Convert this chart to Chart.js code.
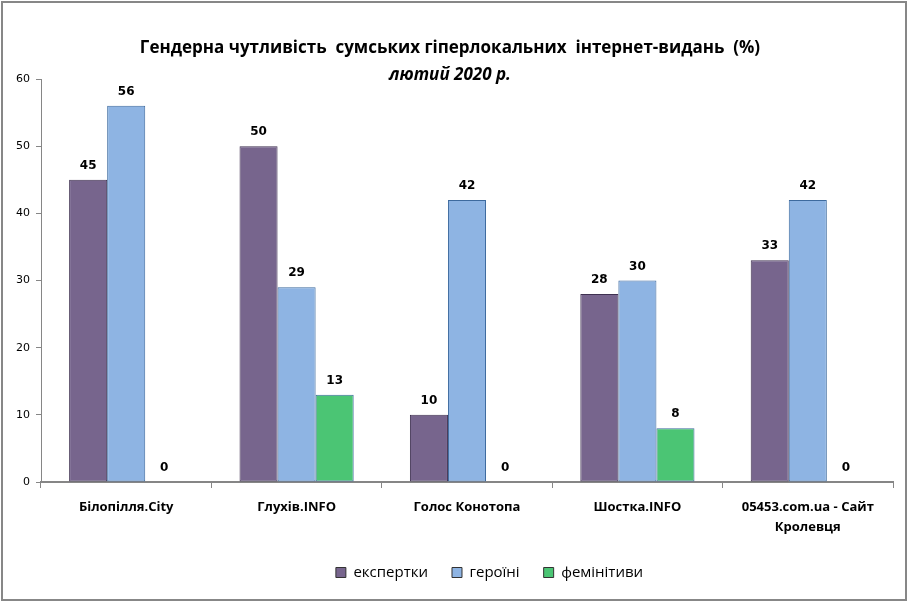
<!DOCTYPE html>
<html>
<head>
<meta charset="utf-8">
<script src="https://cdn.jsdelivr.net/npm/chart.js@4"></script>
<style>
html,body{margin:0;padding:0;background:#fff;}
#wrap{position:relative;width:909px;height:604px;}
</style>
</head>
<body>
<div id="wrap"><canvas id="c" width="909" height="604"></canvas></div>
<script>
const categories = ['Білопілля.City', 'Глухів.INFO', 'Голос Конотопа', 'Шостка.INFO', ['05453.com.ua - Сайт', 'Кролевця']];
const experts = [45, 50, 10, 28, 33];
const heroines = [56, 29, 42, 30, 42];
const feminitives = [0, 13, 0, 8, 0];
const seriesNames = ['експертки', 'героїні', 'фемінітиви'];
const titleLine1 = 'Гендерна чутливість  сумських гіперлокальних  інтернет-видань  (%)';
const titleLine2 = 'лютий 2020 р.';

const valueLabels = {
  id: 'valueLabels',
  afterDatasetsDraw(chart) {
    const ctx = chart.ctx;
    ctx.save();
    ctx.font = 'bold 12px "DejaVu Sans"';
    ctx.fillStyle = '#000';
    ctx.textAlign = 'center';
    ctx.textBaseline = 'middle';
    chart.data.datasets.forEach((ds, i) => {
      const meta = chart.getDatasetMeta(i);
      meta.data.forEach((bar, j) => {
        ctx.fillText(String(ds.data[j]), bar.x, bar.y - 14);
      });
    });
    ctx.restore();
  }
};

const frameAndTitle = {
  id: 'frameAndTitle',
  afterLayout(chart) {
    if (chart.legend) { chart.legend.left += 38; chart.legend.right += 38; }
  },
  afterDraw(chart) {
    const ctx = chart.ctx;
    ctx.save();
    ctx.strokeStyle = '#878787';
    ctx.lineWidth = 2;
    ctx.strokeRect(2, 2, 904, 598);
    ctx.fillStyle = '#000';
    ctx.textAlign = 'center';
    ctx.textBaseline = 'middle';
    ctx.font = 'bold 17px "Open Sans"';
    ctx.fillText(titleLine1, 450, 48);
    ctx.font = 'italic bold 17px "Open Sans"';
    ctx.fillText(titleLine2, 450, 75);
    ctx.restore();
  }
};

new Chart(document.getElementById('c'), {
  type: 'bar',
  data: {
    labels: categories,
    datasets: [
      { label: seriesNames[0], data: experts, backgroundColor: '#77658d', borderColor: '#3f3151', borderWidth: 1, borderSkipped: false },
      { label: seriesNames[1], data: heroines, backgroundColor: '#8eb4e3', borderColor: '#3d6a9e', borderWidth: 1, borderSkipped: false },
      { label: seriesNames[2], data: feminitives, backgroundColor: '#4bc574', borderColor: '#3d6a9e', borderWidth: 1, borderSkipped: false }
    ]
  },
  options: {
    responsive: false,
    animation: false,
    devicePixelRatio: 1,
    layout: { padding: { left: 10, right: 16, top: 79, bottom: 14 } },
    datasets: { bar: { categoryPercentage: 0.67, barPercentage: 1.0 } },
    plugins: {
      legend: {
        position: 'bottom',
        labels: {
          boxWidth: 10, boxHeight: 10, padding: 24,
          color: '#000',
          font: { family: '"Open Sans"', size: 15 },
          generateLabels(chart) {
            return chart.data.datasets.map((ds, i) => ({
              text: ds.label, fillStyle: ds.backgroundColor, strokeStyle: '#333', lineWidth: 1, datasetIndex: i, hidden: false
            }));
          }
        }
      },
      title: { display: false },
      tooltip: { enabled: false }
    },
    scales: {
      x: {
        offset: true,
        grid: { display: true, drawOnChartArea: false, offset: true, tickLength: 6, color: '#868686' },
        border: { color: '#868686', width: 2 },
        ticks: { color: '#000', font: { family: '"Open Sans"', size: 13, weight: 'bold', lineHeight: 1.55 }, padding: 9, maxRotation: 0, autoSkip: false },
        afterFit(scale) { scale.height = 59; }
      },
      y: {
        min: 0, max: 60,
        ticks: { stepSize: 10, color: '#000', font: { family: 'DejaVu Sans', size: 11 }, padding: 6 },
        grid: { display: true, drawOnChartArea: false, tickLength: 5, color: '#868686' },
        border: { color: '#868686', width: 1 },
        afterFit(scale) { scale.width = 31; }
      }
    }
  },
  plugins: [valueLabels, frameAndTitle]
});
</script>
</body>
</html>
